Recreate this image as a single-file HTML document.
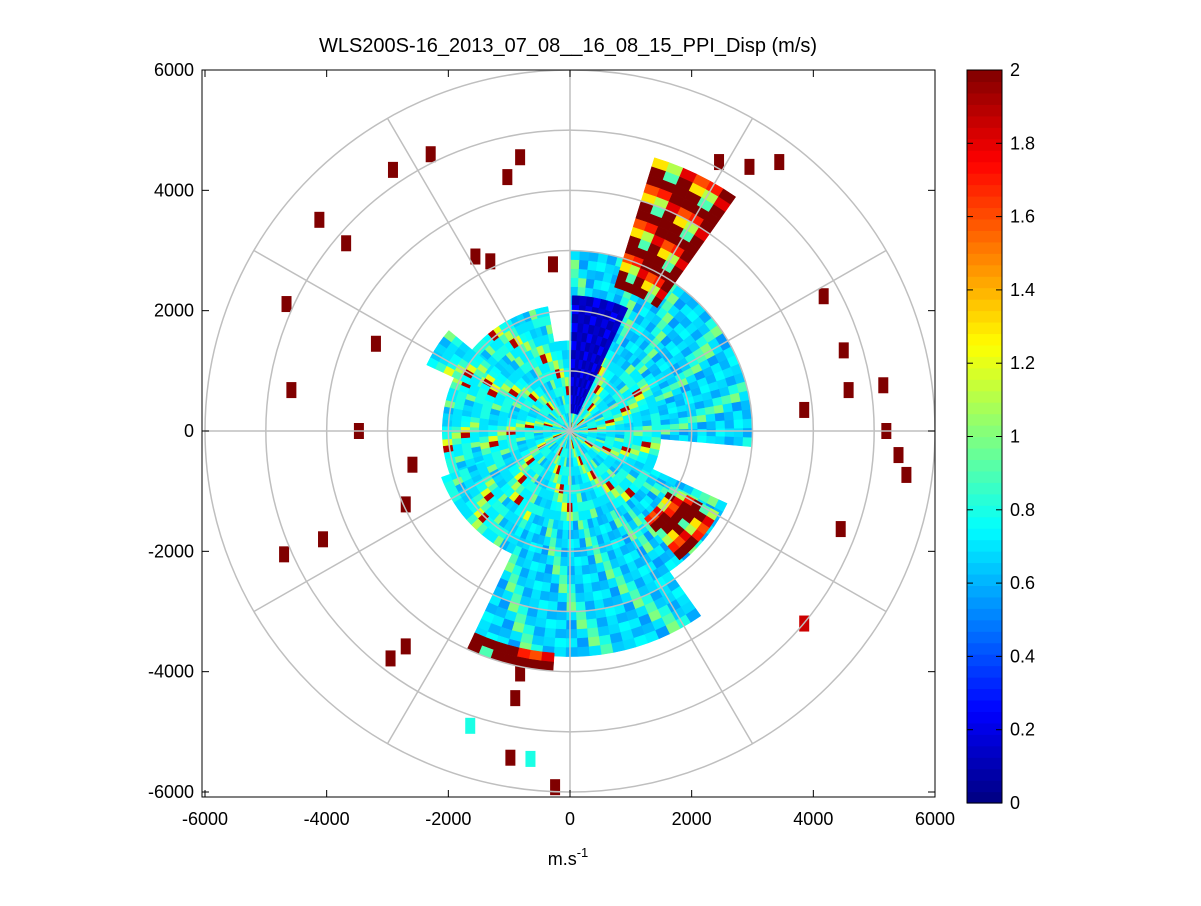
<!DOCTYPE html>
<html><head><meta charset="utf-8"><style>
body{margin:0;background:#fff;}
svg text{font-family:"Liberation Sans",sans-serif;}
</style></head><body>
<svg id="chart" width="1201" height="901" xmlns="http://www.w3.org/2000/svg">
<rect width="1201" height="901" fill="#fff"/>
<text x="568" y="52" text-anchor="middle" font-size="20">WLS200S-16_2013_07_08__16_08_15_PPI_Disp (m/s)</text>
<g id="plot"></g>
<g id="cbar"></g>
<text x="568" y="865" text-anchor="middle" font-size="18">m.s<tspan dy="-8" font-size="13">-1</tspan></text>
</svg>
<script>
// ---- data ----
const xTicks=[-6000,-4000,-2000,0,2000,4000,6000];
const yTicks=[6000,4000,2000,0,-2000,-4000,-6000];
const cbTicks=[0,0.2,0.4,0.6,0.8,1,1.2,1.4,1.6,1.8,2];
const ringRadii=[1000,2000,3000,4000,5000,6000];
const spokeAngles=[0,30,60,90,120,150,180,210,240,270,300,330];
const sectorStart=[0,100,60,30,-5,-55,-115,-115,200,140,55,-50,65];
const sectorEnd=[360,250,88,60,30,-25,-55,-95,245,153,72,-30,88];
const sectorInner=[0,1500,1500,1500,1500,1500,1500,3700,1500,1700,2500,1900,300];
const sectorOuter=[1500,2000,3000,3000,2900,2800,3700,3950,2200,2600,4700,2700,2200];
const sectorPalette=['mix','mix','cyan','cyan','cyan','cyan','cyan','hot','mix','mix','hot','hot','blue'];
const palMix=[0.75,0.8,0.7,0.9,1.0,0.65,1.2,0.8,0.7,0.85,0.72,0.6,0.75,1.9,0.8,0.7,1.1,0.72,0.68,0.78];
const palCyan=[0.6,0.7,0.65,0.75,0.55,0.8,0.7,0.62,0.9,0.68,0.72,1.0,0.58];
const palBlue=[0.15,0.1,0.2,0.12,0.25,0.1];
const palHot=[2,1.8,2,1.3,2,0.9,1.6,2,1.1,2,2,1.7];
const spotX=[-2290,-2910,-820,-1030,-4120,-3680,-4660,-3190,-4580,-3470,-2590,-2700,-4700,-4060,-2700,-2950,-820,-900,-980,-245,-1555,-280,-1310,4170,4500,4580,5150,3850,5200,5400,5530,4450,3850,3440,2950,2450,-1640,-650];
const spotY=[4600,4340,4550,4220,3510,3120,2110,1450,680,0,-560,-1220,-2050,-1800,-3580,-3780,-4030,-4440,-5430,-5920,2900,2770,2820,2240,1340,680,760,350,0,-400,-730,-1630,-3200,4470,4390,4470,-4900,-5450];
const spotVal=[2,2,2,2,2,2,2,2,2,2,2,2,2,2,2,2,2,2,2,2,2,2,2,2,2,2,2,2,2,2,2,2,1.85,2,2,2,0.8,0.8];

// ---- scales ----
const cx=570, cy=431, x0=202,x1=935,y0=70,y1=797;
const sx=v=>cx+v*(x1-cx)/6000;
const sy=v=>cy-v*(cy-y0)/6000;
function jet(v){let t=Math.max(0,Math.min(1,v/2));
 const f=x=>Math.max(0,Math.min(1,1.5-Math.abs(4*t-x)));
 return `rgb(${Math.round(255*f(3))},${Math.round(255*f(2))},${Math.round(255*f(1))})`;}
const NS='http://www.w3.org/2000/svg';
const plot=document.getElementById('plot');
function mk(tag,attrs,parent){const e=document.createElementNS(NS,tag);for(const k in attrs)e.setAttribute(k,attrs[k]);parent.appendChild(e);return e;}
const clip=mk('clipPath',{id:'cp'},plot);mk('rect',{x:x0,y:y0,width:x1-x0,height:y1-y0},clip);
const cells=mk('g',{'clip-path':'url(#cp)'},plot);
function pt(r,a){const t=a*Math.PI/180;return [sx(r*Math.cos(t)),sy(r*Math.sin(t))];}
const pals={mix:palMix,cyan:palCyan,blue:palBlue,hot:palHot};
for(let s=0;s<sectorStart.length;s++){
 const pal=pals[sectorPalette[s]];
 const dr=150, da=s===0?4:3;
 let i=0;
 for(let a=sectorStart[s];a<sectorEnd[s];a+=da){
  let j=0;
  for(let r=sectorInner[s];r<sectorOuter[s];r+=dr){
   const v=pal[(i*7+j*3+s)%pal.length];
   const p1=pt(r,a),p2=pt(r+dr,a),p3=pt(r+dr,a+da),p4=pt(r,a+da);
   const c=mk('path',{d:`M${p1}L${p2}L${p3}L${p4}Z`,fill:jet(v),stroke:jet(v),'stroke-width':0.5},cells);
   
   
   j++;
  }
  i++;
 }
}
for(let k=0;k<spotX.length;k++){
 const c=mk('rect',{x:sx(spotX[k])-5,y:sy(spotY[k])-8,width:10,height:16,fill:jet(spotVal[k])},cells);
 
 
}
// grid
const grid=mk('g',{stroke:'#bfbfbf','stroke-width':1.5,fill:'none','clip-path':'url(#cp)'},plot);


ringRadii.forEach(r=>{const c=mk('ellipse',{cx:cx,cy:cy,rx:sx(r)-cx,ry:cy-sy(r)},grid);
 });
spokeAngles.forEach(a=>{const p=pt(6000,a);const l=mk('line',{x1:cx,y1:cy,x2:p[0],y2:p[1]},grid);
 });
// axes
const ax=mk('g',{stroke:'#000','stroke-width':1},plot);
mk('rect',{x:x0,y:y0,width:x1-x0,height:y1-y0,fill:'none'},ax);
xTicks.forEach(v=>{const x=sx(v);mk('line',{x1:x,y1:y1,x2:x,y2:y1-7},ax);mk('line',{x1:x,y1:y0,x2:x,y2:y0+7},ax);
 const t=mk('text',{x:x,y:y1+28,'text-anchor':'middle','font-size':18,stroke:'none'},plot);t.textContent=v;
 });
yTicks.forEach(v=>{const y=sy(v);mk('line',{x1:x0,y1:y,x2:x0+7,y2:y},ax);mk('line',{x1:x1,y1:y,x2:x1-7,y2:y},ax);
 const t=mk('text',{x:x0-8,y:y+6,'text-anchor':'end','font-size':18,stroke:'none'},plot);t.textContent=v;
 });
// colorbar
const cb=document.getElementById('cbar');
const bx=967,bw=35,by0=70,by1=803,n=64;
for(let i=0;i<n;i++){const h=(by1-by0)/n;mk('rect',{x:bx,y:by1-(i+1)*h,width:bw,height:h+0.6,fill:jet((i+0.5)/n*2)},cb);}
mk('rect',{x:bx,y:by0,width:bw,height:by1-by0,fill:'none',stroke:'#000'},cb);
cbTicks.forEach(v=>{const y=by1-v/2*(by1-by0);
 mk('line',{x1:bx,y1:y,x2:bx+6,y2:y,stroke:'#000'},cb);mk('line',{x1:bx+bw,y1:y,x2:bx+bw-6,y2:y,stroke:'#000'},cb);
 const t=mk('text',{x:bx+bw+8,y:y+6,'font-size':18},cb);t.textContent=v;
 });
</script>
</body></html>
